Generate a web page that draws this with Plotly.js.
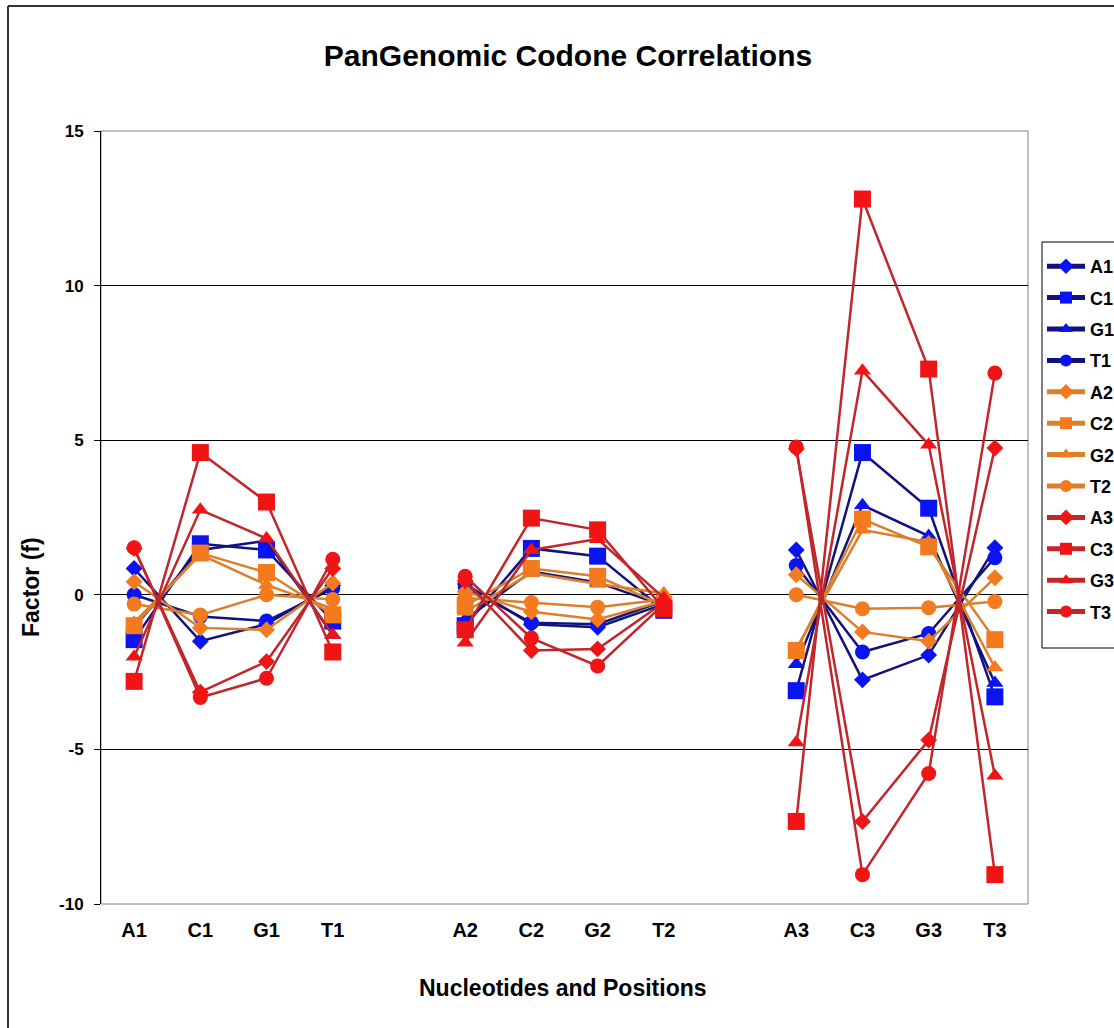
<!DOCTYPE html>
<html>
<head>
<meta charset="utf-8">
<script src="https://cdn.plot.ly/plotly-3.0.1.min.js"></script>
<style>
  html, body { margin: 0; padding: 0; background: #ffffff; }
  #chart { width: 1114px; height: 1028px; }
</style>
</head>
<body>
<div id="chart"></div>
<script>
// x-axis categories (empty strings are the spacing slots between codon positions)
const categories = ["A1", "C1", "G1", "T1", "", "A2", "C2", "G2", "T2", "", "A3", "C3", "G3", "T3"];

// series names
const seriesNames = ["A1", "C1", "G1", "T1", "A2", "C2", "G2", "T2", "A3", "C3", "G3", "T3"];

// y tick values and labels
const yTickVals = [-10, -5, 0, 5, 10, 15];
const yTickText = ["-10", "-5", "0", "5", "10", "15"];

// values (null = gap)
const valsA1 = [0.85, -1.5, -0.95, 0.3, null, 0.35, -0.95, -1.05, -0.3, null, 1.45, -2.75, -1.95, 1.52];
const valsC1 = [-1.45, 1.65, 1.45, -0.85, null, -1.0, 1.5, 1.25, -0.5, null, -3.1, 4.6, 2.8, -3.3];
const valsG1 = [-1.05, 1.45, 1.75, -1.3, null, -0.8, 0.75, 0.4, -0.35, null, -2.25, 2.9, 1.9, -2.85];
const valsT1 = [0.0, -0.7, -0.85, 0.2, null, 0.25, -0.9, -0.95, -0.2, null, 0.95, -1.85, -1.25, 1.2];
const valsA2 = [0.42, -1.07, -1.13, 0.38, null, 0.1, -0.55, -0.8, -0.2, null, 0.65, -1.2, -1.5, 0.55];
const valsC2 = [-1.0, 1.35, 0.72, -0.65, null, -0.35, 0.85, 0.6, -0.35, null, -1.8, 2.45, 1.55, -1.45];
const valsG2 = [-0.9, 1.3, 0.32, -0.45, null, -0.55, 0.7, 0.35, 0.05, null, -1.75, 2.1, 1.7, -2.35];
const valsT2 = [-0.3, -0.65, 0.0, -0.15, null, -0.1, -0.25, -0.4, -0.15, null, 0.0, -0.45, -0.42, -0.22];
const valsA3 = [1.5, -3.15, -2.16, 0.85, null, 0.45, -1.8, -1.75, -0.25, null, 4.72, -7.33, -4.7, 4.75];
const valsC3 = [-2.8, 4.6, 3.0, -1.85, null, -1.13, 2.48, 2.1, -0.45, null, -7.33, 12.8, 7.3, -9.05];
const valsG3 = [-2.0, 2.75, 1.82, -1.3, null, -1.55, 1.45, 1.8, -0.1, null, -4.78, 7.25, 4.85, -5.85];
const valsT3 = [1.52, -3.32, -2.7, 1.15, null, 0.6, -1.4, -2.3, -0.3, null, 4.78, -9.05, -5.78, 7.17];

const allValues = [valsA1, valsC1, valsG1, valsT1, valsA2, valsC2, valsG2, valsT2, valsA3, valsC3, valsG3, valsT3];

// styles
const lineColors = ["#12127f", "#dc7f2c", "#c0262b"];
const markerColors = ["#0a14f0", "#f47a1f", "#f01414"];
const symbols = ["diamond", "square", "triangle-up", "circle"];
const sizes = [13, 17, 15, 15];

const xIdx = categories.map((c, i) => i);
const tickvals = xIdx.filter(i => categories[i] !== "");
const ticktext = tickvals.map(i => categories[i]);

const traces = seriesNames.map((name, k) => {
  const g = Math.floor(k / 4);
  const s = k % 4;
  return {
    type: "scatter",
    mode: "lines+markers",
    name: name,
    legendgroup: "g" + k,
    x: xIdx,
    y: allValues[k],
    connectgaps: false,
    line: { color: lineColors[g], width: 2.5 },
    marker: { symbol: symbols[s], size: sizes[s], color: markerColors[g], line: { width: 0 } }
  };
});

const FONT = "Liberation Sans, Arial, sans-serif";
const L = 101, R = 1028, T = 131, B = 904, W = 1114, H = 1028;
const px2x = p => (p - L) / (R - L);
const py2y = p => (B - p) / (B - T);

const layout = {
  width: W,
  height: H,
  margin: { l: L, r: W - R, t: T, b: H - B, autoexpand: false },
  paper_bgcolor: "#ffffff",
  plot_bgcolor: "#ffffff",
  font: { family: FONT, color: "#000000" },
  title: {
    text: "PanGenomic Codone Correlations",
    font: { family: FONT, size: 30, weight: "bold", color: "#000000" },
    x: 568 / W, xref: "container", xanchor: "center",
    y: 1 - 55 / H, yref: "container", yanchor: "middle"
  },
  xaxis: {
    range: [-0.5, 13.5],
    tickmode: "array",
    tickvals: tickvals,
    ticktext: ticktext,
    showgrid: false,
    zeroline: false,
    showline: false,
    ticks: "",
    ticklabelstandoff: 12,
    tickfont: { family: FONT, size: 20, weight: "bold" },
    fixedrange: true
  },
  yaxis: {
    range: [-10, 15],
    tickmode: "array",
    tickvals: yTickVals,
    ticktext: yTickText,
    showgrid: true,
    gridcolor: "#000000",
    gridwidth: 1,
    zeroline: true,
    zerolinecolor: "#000000",
    zerolinewidth: 1,
    showline: true,
    linecolor: "#000000",
    linewidth: 1,
    ticks: "outside",
    ticklen: 6,
    tickcolor: "#000000",
    ticklabelstandoff: 7,
    tickfont: { family: FONT, size: 17, weight: "bold" },
    fixedrange: true
  },
  annotations: [
    { text: "Factor (f)", textangle: -90, xref: "paper", yref: "paper",
      x: px2x(31), y: py2y(587), xanchor: "center", yanchor: "middle", showarrow: false,
      font: { family: FONT, size: 23, weight: "bold", color: "#000000" } },
    { text: "Nucleotides and Positions", xref: "paper", yref: "paper",
      x: px2x(563), y: py2y(988), xanchor: "center", yanchor: "middle", showarrow: false,
      font: { family: FONT, size: 23, weight: "bold", color: "#000000" } }
  ],
  showlegend: true,
  legend: {
    x: px2x(1042), xanchor: "left",
    y: py2y(248), yanchor: "top",
    bgcolor: "rgba(0,0,0,0)",
    borderwidth: 0,
    font: { family: FONT, size: 18, weight: "bold", color: "#000000" },
    tracegroupgap: 5,
    itemwidth: 38,
    itemsizing: "constant"
  },
  shapes: [
    { type: "rect", xref: "paper", yref: "paper", x0: 0, x1: 1, y0: 0, y1: 1,
      line: { color: "#808080", width: 1 }, layer: "below" },
    { type: "rect", xref: "paper", yref: "paper", x0: px2x(1042), x1: px2x(1300), y0: py2y(648), y1: py2y(242),
      line: { color: "#000000", width: 1 }, fillcolor: "#ffffff", layer: "below" },
    { type: "line", xref: "paper", yref: "paper", x0: px2x(8), x1: px2x(8), y0: py2y(6), y1: py2y(1040),
      line: { color: "#333333", width: 2 } },
    { type: "line", xref: "paper", yref: "paper", x0: px2x(8), x1: px2x(1200), y0: py2y(6), y1: py2y(6),
      line: { color: "#333333", width: 2 } }
  ]
};

Plotly.newPlot("chart", traces, layout, { displayModeBar: false, staticPlot: true });
</script>
</body>
</html>
